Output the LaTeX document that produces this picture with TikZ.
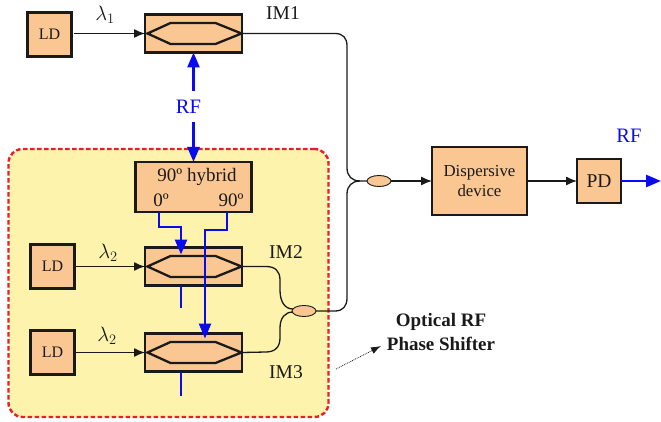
\documentclass[tikz,border=0pt]{standalone}
\usepackage{fontspec}
\setmainfont{Liberation Serif}
\usetikzlibrary{arrows.meta,calc,shapes.geometric}
\definecolor{boxfill}{HTML}{FAC792}
\definecolor{panel}{HTML}{FDF3AC}
\definecolor{panelred}{HTML}{EE1C25}
\definecolor{rfblue}{HTML}{0A0AF0}
\definecolor{ink}{HTML}{1A1A1A}
\newcommand{\fs}[1]{\fontsize{#1}{#1}\selectfont}
\newcommand{\mzarms}[1]{\draw[arm] ([xshift=-46pt]#1.center) -- ([xshift=-23pt,yshift=10.5pt]#1.center) -- ([xshift=22pt,yshift=10.5pt]#1.center) -- ([xshift=48pt]#1.center) -- ([xshift=22pt,yshift=-10.5pt]#1.center) -- ([xshift=-23pt,yshift=-10.5pt]#1.center) -- cycle;}
\tikzset{
  x=1pt,y=-1pt,
  boxed/.style={draw=ink,fill=boxfill,line width=2.6pt,inner sep=0pt,outer sep=0pt,align=center,text=ink},
  ldbox/.style={boxed,minimum width=44pt,minimum height=44pt,font=\fs{16}},
  mzbox/.style={boxed,minimum width=97pt,minimum height=38pt},
  arm/.style={draw=ink,line width=2.3pt,line join=miter},
  fibre/.style={draw=ink,line width=1.3pt},
  fibretip/.style={fibre,-{Latex[length=11pt,width=9pt]}},
  rfline/.style={draw=rfblue,line width=2.6pt},
  rfarrow/.style={rfline,-{Triangle[length=15pt,width=12pt]}},
  coupler/.style={ellipse,draw=ink,fill=boxfill,line width=0.9pt,minimum width=24pt,minimum height=11pt,inner sep=0pt,outer sep=0pt},
  lab/.style={text=ink,inner sep=0pt,font=\fs{19.5}},
  lamlab/.style={text=ink,inner sep=0pt,font=\fs{22}},
  rflab/.style={text=rfblue,inner sep=0pt,font=\fs{20.5}},
  boldlab/.style={text=ink,inner sep=0pt,font=\fs{19}\bfseries},
}
\begin{document}
\begin{tikzpicture}
\useasboundingbox (0,0) rectangle (661,422);
% panel
\node[draw=panelred,fill=panel,line width=2.4pt,dash pattern=on 4.5pt off 2.5pt,rounded corners=14pt,minimum width=320pt,minimum height=268pt,inner sep=0pt,outer sep=0pt] (panelbox) at (168.5,283) {};
% boxes
\node[ldbox] (ld1) at (49.5,34.5) {LD};
\node[ldbox] (ld2) at (52.5,266.5) {LD};
\node[ldbox] (ld3) at (52.5,352.5) {LD};
\node[mzbox] (im1) at (193.5,33.5) {};
\node[mzbox] (im2) at (193.5,266.5) {};
\node[mzbox] (im3) at (193.5,352.5) {};
\mzarms{im1}\mzarms{im2}\mzarms{im3}
\node[boxed,minimum width=116pt,minimum height=50pt] (hybrid) at (193.5,187) {};
\node[lab,font=\fs{19}] (hybridtitle) at (197,177) {90º hybrid};
\node[lab,font=\fs{19}] (hyb0) at (161,200) {0º};
\node[lab,font=\fs{19}] (hyb90) at (231,200) {90º};
\node[boxed,minimum width=95pt,minimum height=68pt,font=\fs{16.8}] (disp) at (479.5,181) {Dispersive\\[4pt]device};
\node[boxed,minimum width=44pt,minimum height=44pt,font=\fs{19.5}] (pd) at (599,181) {PD};
\node[coupler] (c1) at (379,181) {};
\node[coupler] (c2) at (304,311) {};
% optical connectors
\draw[fibretip] ([xshift=2pt]ld1.east |- im1.west) -- (im1.west);
\draw[fibretip] (ld2.east) -- (im2.west);
\draw[fibretip] (ld3.east) -- (im3.west);
\draw[fibre] (im1.east) -- (335,33.5) .. controls (343,33.5) and (347,38) .. (347,46) -- (347,168) .. controls (347,176) and (352,181) .. (360,181) -- (c1.west);
\draw[fibre] (c2.east) -- (335,311) .. controls (343,311) and (347,306) .. (347,298) -- (347,194) .. controls (347,186) and (352,181) .. (360,181);
\draw[fibre] (im2.east) -- (266,266.5) .. controls (275,266.5) and (280,271) .. (280,280) -- (280,290) .. controls (280,302) and (285,309) .. (293,309);
\draw[fibre] (im3.east) -- (266,352) .. controls (275,352) and (280,347) .. (280,338) -- (280,328) .. controls (280,318) and (285,312) .. (293,312);
\draw[fibretip] (c1.east) -- (disp.west);
\draw[fibretip] (disp.east) -- (pd.west);
% RF connectors
\coordinate (rfupstart) at (193.5,91);
\coordinate (rfdownstart) at (193.5,122);
\draw[rfarrow] (rfupstart) -- (im1.south);
\draw[rfarrow] (rfdownstart) -- (hybrid.north);
\node[rflab] (rfmid) at (188.5,107) {RF};
\draw[rfarrow] (159,212) -- (159,227) -- (181,227) -- (181,254.5);
\draw[rfarrow] (227,212) -- (227,230) -- (205,230) -- (205,338.5);
\coordinate (stub2) at (181,308);
\coordinate (stub3) at (181,396);
\draw[rfline] (181,285.5) -- (stub2);
\draw[rfline] (181,371.5) -- (stub3);
\coordinate (rfout) at (661,181);
\draw[rfarrow] (pd.east) -- (rfout);
% labels
\node[lamlab] (lam1) at (105,15) {$\lambda_1$};
\node[lamlab] (lam2) at (108,253) {$\lambda_2$};
\node[lamlab] (lam3) at (107,336) {$\lambda_2$};
\node[lab] (im1lab) at (283,13) {IM1};
\node[lab] (im2lab) at (286,252) {IM2};
\node[lab] (im3lab) at (286,372) {IM3};
\node[rflab] (rfright) at (629,136) {RF};
\node[boldlab] (opt1) at (441,322) {Optical RF};
\node[boldlab] (opt2) at (441,344) {Phase Shifter};
\coordinate (dotstart) at (336,369);
\coordinate (dotend) at (381,346);
\draw[draw=ink,line width=0.8pt,densely dotted,-{Latex[length=10pt,width=7pt]}] (dotstart) -- (dotend);
\end{tikzpicture}
\end{document}
